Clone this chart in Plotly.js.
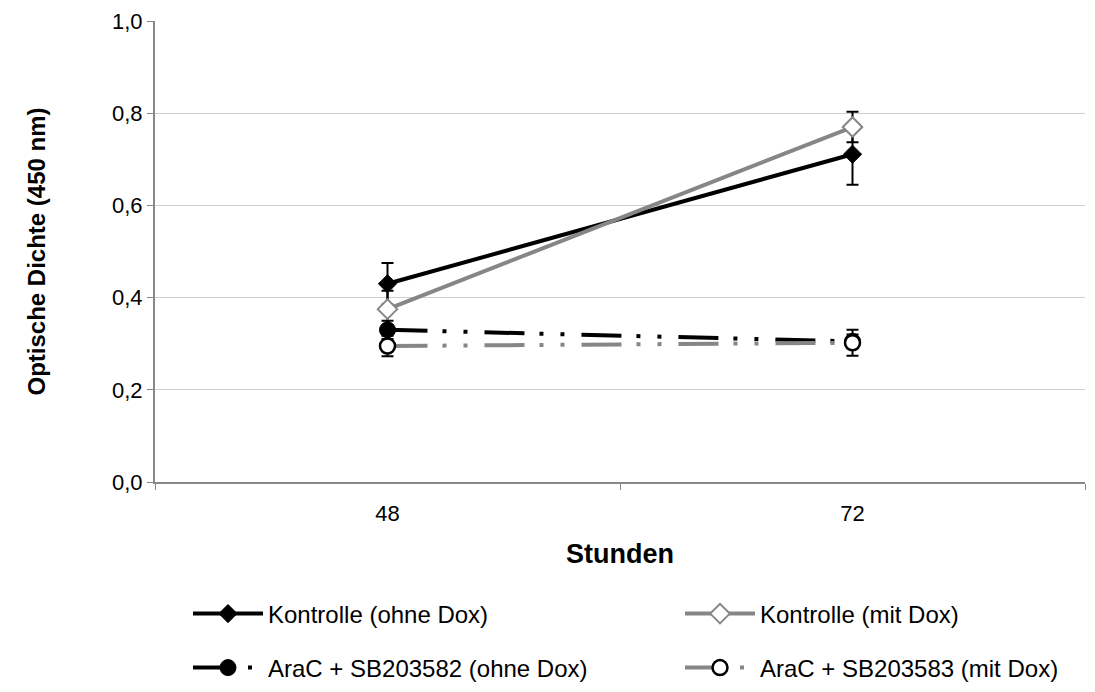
<!DOCTYPE html>
<html>
<head>
<meta charset="utf-8">
<script src="https://cdn.plot.ly/plotly-3.0.1.min.js"></script>
<style>
  html, body { margin: 0; padding: 0; background: #fff; }
  #chart { width: 1095px; height: 692px; }
</style>
</head>
<body>
<div id="chart"></div>
<script>
// Zeitpunkte (Stunden)
const stunden = ['48', '72'];

// Mittelwerte der optischen Dichte bei 450 nm
const kontrolleOhneDox = [0.430, 0.711];
const kontrolleMitDox = [0.375, 0.770];
const araCOhneDox = [0.330, 0.305];
const araCMitDox = [0.295, 0.302];

// Standardabweichungen
const fehlerKontrolleOhne = [0.045, 0.066];
const fehlerKontrolleMit = [0.040, 0.033];
const fehlerAraCOhne = [0.020, 0.015];
const fehlerAraCMit = [0.022, 0.028];

const serienNamen = [
  'Kontrolle (ohne Dox)',
  'Kontrolle (mit Dox)',
  'AraC + SB203582 (ohne Dox)',
  'AraC + SB203583 (mit Dox)'
];

const strichPunktPunkt = '40px,15px,4px,17px,4px,17px';

function fehler(werte) {
  return { type: 'data', array: werte, visible: true, color: '#000', thickness: 2, width: 6 };
}

const traces = [
  {
    x: stunden, y: araCOhneDox, name: serienNamen[2], legend: 'legend3',
    mode: 'lines+markers',
    line: { color: '#000', width: 4, dash: strichPunktPunkt },
    marker: { symbol: 'circle', size: 16, color: '#000', line: { color: '#000', width: 1 } },
    error_y: fehler(fehlerAraCOhne)
  },
  {
    x: stunden, y: araCMitDox, name: serienNamen[3], legend: 'legend4',
    mode: 'lines+markers',
    line: { color: '#868686', width: 4, dash: strichPunktPunkt },
    marker: { symbol: 'circle', size: 15, color: '#fff', line: { color: '#000', width: 2.5 } },
    error_y: fehler(fehlerAraCMit)
  },
  {
    x: stunden, y: kontrolleOhneDox, name: serienNamen[0], legend: 'legend',
    mode: 'lines+markers',
    line: { color: '#000', width: 4 },
    marker: { symbol: 'diamond', size: 14, color: '#000', line: { color: '#000', width: 1 } },
    error_y: fehler(fehlerKontrolleOhne)
  },
  {
    x: stunden, y: kontrolleMitDox, name: serienNamen[1], legend: 'legend2',
    mode: 'lines+markers',
    line: { color: '#868686', width: 4 },
    marker: { symbol: 'diamond', size: 15, color: '#fff', line: { color: '#868686', width: 2 } },
    error_y: fehler(fehlerKontrolleMit)
  }
];

const schrift = 'Liberation Sans, Arial, sans-serif';

// one legend box per entry, laid out as a 2x2 grid below the plot
function legende(xPx, yPx) {
  return {
    orientation: 'h',
    x: xPx / 1095, xanchor: 'left',
    y: 1 - yPx / 692, yanchor: 'middle',
    xref: 'container', yref: 'container',
    itemwidth: 70,
    font: { family: schrift, size: 24, color: '#000' },
    bgcolor: 'rgba(0,0,0,0)'
  };
}

const layout = {
  width: 1095,
  height: 692,
  margin: { l: 155, r: 10, t: 21, b: 210 },
  paper_bgcolor: '#fff',
  plot_bgcolor: '#fff',
  separators: ',.',
  font: { family: schrift, size: 22, color: '#000' },
  showlegend: true,
  xaxis: {
    type: 'category',
    range: [-0.5, 1.5],
    tickson: 'boundaries',
    ticks: 'outside',
    ticklen: 6,
    tickcolor: '#888',
    tickwidth: 1,
    ticklabelstandoff: 11,
    showgrid: false,
    showline: true,
    linecolor: '#888',
    linewidth: 2,
    zeroline: false,
    automargin: false,
    tickfont: { family: schrift, size: 22, color: '#000' },
    title: { text: '<b>Stunden</b>', font: { family: schrift, size: 27, color: '#000' }, standoff: 19 },
    fixedrange: true
  },
  yaxis: {
    range: [0, 1],
    dtick: 0.2,
    tickformat: '.1f',
    ticks: 'outside',
    ticklen: 6,
    tickcolor: '#888',
    showgrid: true,
    gridcolor: '#cfcfcf',
    gridwidth: 1,
    showline: true,
    linecolor: '#888',
    linewidth: 2,
    zeroline: false,
    automargin: false,
    tickfont: { family: schrift, size: 22, color: '#000' },
    title: { text: '<b>Optische Dichte (450 nm)</b>', font: { family: schrift, size: 24, color: '#000' }, standoff: 60 },
    fixedrange: true
  },
  legend: legende(188, 614),
  legend2: legende(680, 614),
  legend3: legende(188, 668),
  legend4: legende(680, 668)
};

Plotly.newPlot('chart', traces, layout, { displayModeBar: false, staticPlot: true });
</script>
</body>
</html>
